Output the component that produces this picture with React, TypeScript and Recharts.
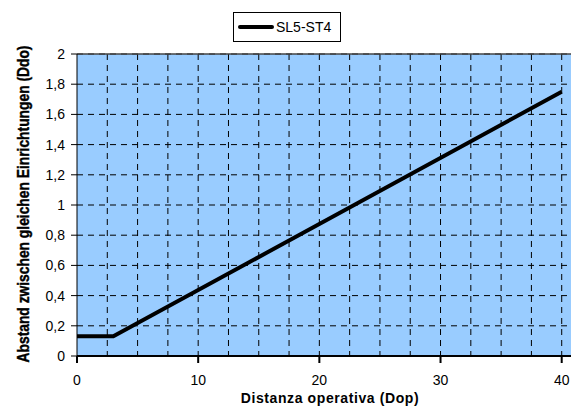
import { CartesianGrid, Line, LineChart, ReferenceLine, XAxis, YAxis } from "recharts";

const distances = [0, 3, 40];
const spacing = [0.13, 0.13, 1.75];
const xTicks = [0, 10, 20, 30, 40];
const yTicks = [0, 0.2, 0.4, 0.6, 0.8, 1, 1.2, 1.4, 1.6, 1.8, 2];
const xGrid = [2.5, 5, 7.5, 10, 12.5, 15, 17.5, 20, 22.5, 25, 27.5, 30, 32.5, 35, 37.5, 40, 42.5];
const seriesName = "SL5-ST4";

const chartData = distances.map((d, i) => ({ d, v: spacing[i] }));

const CHART_W = 620;
const CHART_H = 414;

function LegendBox() {
  return (
    <div
      style={{
        position: "absolute",
        left: 233,
        top: 12,
        width: 108,
        height: 30,
        border: "1px solid #000",
        background: "#fff",
        display: "flex",
        alignItems: "center",
        boxSizing: "border-box",
        fontFamily: "Liberation Sans, Arial, sans-serif",
        fontSize: 14,
        zIndex: 2,
      }}
    >
      <div style={{ width: 36, height: 4, background: "#000", marginLeft: 4, marginRight: 2, borderRadius: 2 }} />
      <span>{seriesName}</span>
    </div>
  );
}

function YLabel() {
  return (
    <text
      x={0}
      y={0}
      transform="translate(29, 204) rotate(-90) scale(0.76, 1)"
      textAnchor="middle"
      fontFamily="Liberation Sans, Arial, sans-serif"
      fontWeight="bold"
      fontSize={16}
      textLength={417}
      lengthAdjust="spacingAndGlyphs"
      fill="#000"
      stroke="#000"
      strokeWidth={0.4}
    >
      Abstand zwischen gleichen Einrichtungen (Ddo)
    </text>
  );
}

function XLabel() {
  return (
    <text
      x={330}
      y={403}
      textAnchor="middle"
      fontFamily="Liberation Sans, Arial, sans-serif"
      fontWeight="bold"
      fontSize={14}
      letterSpacing={0.6}
      fill="#000"
    >
      Distanza operativa (Dop)
    </text>
  );
}

export default function App() {
  return (
    <div style={{ margin: -8, width: 579, height: 414, overflow: "hidden", position: "relative", background: "#fff" }}>
      <LegendBox />
      <LineChart
        width={CHART_W}
        height={CHART_H}
        data={chartData}
        margin={{ top: 54, right: 28, bottom: 0, left: 0 }}
      >
        <CartesianGrid
          fill="#99ccff"
          stroke="#000"
          strokeDasharray="6 5"
          verticalValues={xGrid}
          horizontalValues={yTicks}
        />
        <XAxis
          dataKey="d"
          type="number"
          domain={[0, 42.5]}
          ticks={xTicks}
          interval={0}
          height={58}
          stroke="#000"
          strokeWidth={2}
          tickSize={7}
          tickMargin={12}
          tick={{ fill: "#000", fontSize: 14, fontFamily: "Liberation Sans, Arial, sans-serif" }}
          label={<XLabel />}
        />
        <YAxis
          type="number"
          domain={[0, 2]}
          ticks={yTicks}
          interval={0}
          width={77}
          stroke="#000"
          tickSize={6}
          tickMargin={6}
          tickFormatter={(v: number) => String(v).replace(".", ",")}
          tick={{ fill: "#000", fontSize: 14, fontFamily: "Liberation Sans, Arial, sans-serif" }}
          label={<YLabel />}
        />
        <ReferenceLine y={2} stroke="#444" strokeWidth={1.5} />
        <Line
          type="linear"
          dataKey="v"
          name={seriesName}
          stroke="#000"
          strokeWidth={4}
          dot={false}
          isAnimationActive={false}
        />
      </LineChart>
    </div>
  );
}
